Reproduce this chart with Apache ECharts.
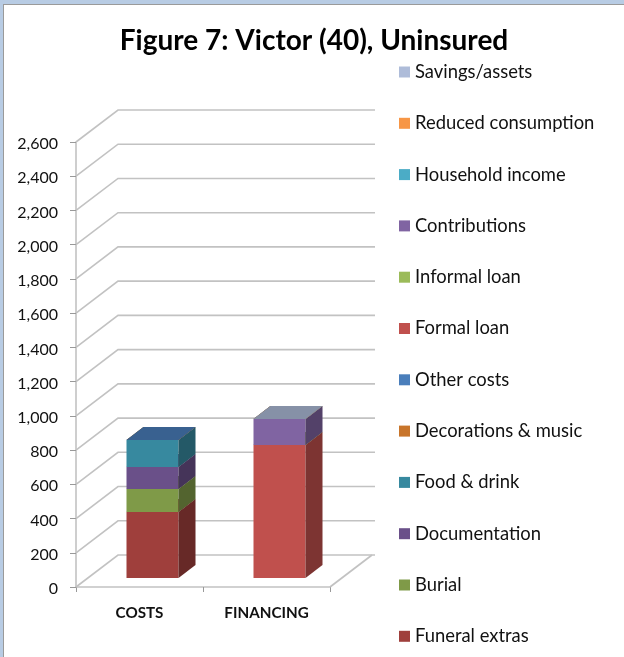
<!DOCTYPE html>
<html><head><meta charset="utf-8">
<style>html,body{margin:0;padding:0;background:#fff}#c{width:624px;height:657px}</style>
<script src="https://cdn.jsdelivr.net/npm/echarts@6/dist/echarts.min.js"></script>
</head><body><div id="c"></div>
<script>
const categories = ['COSTS', 'FINANCING'];
const yTicks = [0,200,400,600,800,1000,1200,1400,1600,1800,2000,2200,2400,2600];
// bottom-to-top stacking order; null = series not used in that column
const funeralExtras     = [385, null];
const burial            = [135, null];
const documentation     = [128, null];
const foodDrink         = [158, null];
const decorationsMusic  = [0, null];
const otherCosts        = [0, null];
const formalLoan        = [null, 777];
const informalLoan      = [null, 0];
const contributions     = [null, 152];
const householdIncome   = [null, 0];
const reducedConsumption= [null, 0];
const savingsAssets     = [null, 0];

const seriesDefs = [
  ['Funeral extras', funeralExtras, '#9F3F3C'],
  ['Burial', burial, '#7F9A48'],
  ['Documentation', documentation, '#6A5089'],
  ['Food & drink', foodDrink, '#37899F'],
  ['Decorations & music', decorationsMusic, '#C8752B'],
  ['Other costs', otherCosts, '#4A7EBB'],
  ['Formal loan', formalLoan, '#C0504D'],
  ['Informal loan', informalLoan, '#9BBB59'],
  ['Contributions', contributions, '#8064A2'],
  ['Household income', householdIncome, '#4BACC6'],
  ['Reduced consumption', reducedConsumption, '#F79646'],
  ['Savings/assets', savingsAssets, '#AEBCD9']
];
const legendOrder = seriesDefs.map(d => d[0]).reverse();

const FONT = 'Lato, Carlito, "Open Sans", sans-serif';
const GRID = {left: 76, top: 142, width: 254, height: 445};
const WALL = [42, -32];      // floor depth in px
const BAR_OFF = [13, -9];    // bar front face from the axis plane
const BAR_D = [17, -13];     // bar depth
const BAR_W = 52;
const LINE = '#c2c2c2';

function shade(hex, f) {
  const n = parseInt(hex.slice(1), 16);
  const c = [(n >> 16) & 255, (n >> 8) & 255, n & 255].map(v => Math.round(v * f));
  return 'rgb(' + c.join(',') + ')';
}

// cumulative base below each series per column
function baseOf(seriesIndex, col) {
  let s = 0;
  for (let i = 0; i < seriesIndex; i++) s += seriesDefs[i][1][col] || 0;
  return s;
}

function poly(points, fill) {
  return {type: 'polygon', shape: {points}, style: {fill, stroke: null}};
}

const barSeries = seriesDefs.map((d, si) => ({
  name: d[0],
  type: 'custom',
  coordinateSystem: 'cartesian2d',
  itemStyle: {color: d[2]},
  encode: {x: 0, y: 1},
  z: 5 + si,
  silent: true,
  data: categories.map((c, i) => [i, d[1][i]]),
  renderItem(params, api) {
    const col = api.value(0);
    const own = d[1][col];
    if (own == null) return {type: 'group', children: []};
    const base = baseOf(si, col);
    const pB = api.coord([col, base]);
    const pT = api.coord([col, base + own]);
    const x0 = pB[0] - BAR_W / 2 + BAR_OFF[0], x1 = x0 + BAR_W;
    const yb = pB[1] + BAR_OFF[1], yt = pT[1] + BAR_OFF[1];
    const dx = BAR_D[0], dy = BAR_D[1];
    const children = [];
    if (own > 0) {
      children.push(poly([[x0,yb],[x1,yb],[x1,yt],[x0,yt]], d[2]));
      children.push(poly([[x1,yb],[x1+dx,yb+dy],[x1+dx,yt+dy],[x1,yt]], shade(d[2], 0.65)));
    }
    children.push(poly([[x0,yt],[x1,yt],[x1+dx,yt+dy],[x0+dx,yt+dy]], shade(d[2], 0.77)));
    return {type: 'group', children};
  }
}));

const gridSeries = {
  type: 'custom',
  name: 'walls',
  coordinateSystem: 'cartesian2d',
  silent: true,
  z: 1,
  encode: {x: 0, y: 1},
  data: yTicks.map(v => [0, v]),
  renderItem(params, api) {
    const v = api.value(1);
    const y = api.coord([0, v])[1];
    const cs = params.coordSys;
    const xL = cs.x, xR = 375;
    const style = {stroke: LINE, lineWidth: 1.6, fill: null};
    const children = [{
      type: 'polyline',
      shape: {points: [[xL, y], [xL + WALL[0], y + WALL[1]], [xR, y + WALL[1]]]},
      style
    }];
    if (v === 0) {
      children.push({type: 'polyline',
        shape: {points: [[cs.x + cs.width, y], [cs.x + cs.width + WALL[0], y + WALL[1]]]},
        style});
    }
    return {type: 'group', children};
  }
};

const chart = echarts.init(document.getElementById('c'), null, {renderer: 'canvas'});
chart.setOption({
  animation: false,
  backgroundColor: '#fff',
  title: {
    text: 'Figure 7: Victor (40), Uninsured',
    left: 309, top: 22, textAlign: 'center',
    textStyle: {fontFamily: FONT, fontWeight: 'bold', fontSize: 28, color: '#000'}
  },
  grid: GRID,
  legend: {
    orient: 'vertical', left: 399, top: 62, padding: 0,
    data: legendOrder.map(name => ({name, icon: 'rect'})),
    itemWidth: 11, itemHeight: 11, itemGap: 31.3,
    selectedMode: false,
    textStyle: {fontFamily: FONT, fontSize: 18.4, color: '#111', lineHeight: 20}
  },
  xAxis: {
    type: 'category', data: categories,
    axisLine: {lineStyle: {color: LINE, width: 1.6}},
    axisTick: {show: true, alignWithLabel: false, length: 5, lineStyle: {color: '#999'}},
    axisLabel: {fontFamily: FONT, fontWeight: 'bold', fontSize: 15.2, color: '#111', margin: 19},
    splitLine: {show: false}
  },
  yAxis: {
    type: 'value', min: 0, max: 2600, interval: 200,
    axisLine: {show: true, lineStyle: {color: LINE, width: 1.6}},
    axisTick: {show: true, length: 6, lineStyle: {color: '#999'}},
    axisLabel: {
      fontFamily: FONT, fontSize: 16, color: '#111', margin: 18,
      verticalAlign: 'top', lineHeight: 20, padding: [-8, 0, 0, 0],
      formatter: v => v.toLocaleString('en-US')
    },
    splitLine: {show: false}
  },
  graphic: [
    {type: 'rect', shape: {x: 0, y: 0, width: 624, height: 4}, style: {fill: '#b8cce4'}, z: 100},
    {type: 'rect', shape: {x: 0, y: 0, width: 3, height: 657}, style: {fill: '#b8cce4'}, z: 100},
    {type: 'rect', shape: {x: 3, y: 4, width: 621, height: 1}, style: {fill: '#9a9a9a'}, z: 100},
    {type: 'rect', shape: {x: 3, y: 4, width: 1, height: 653}, style: {fill: '#9a9a9a'}, z: 100}
  ],
  series: [gridSeries].concat(barSeries)
});
</script></body></html>
